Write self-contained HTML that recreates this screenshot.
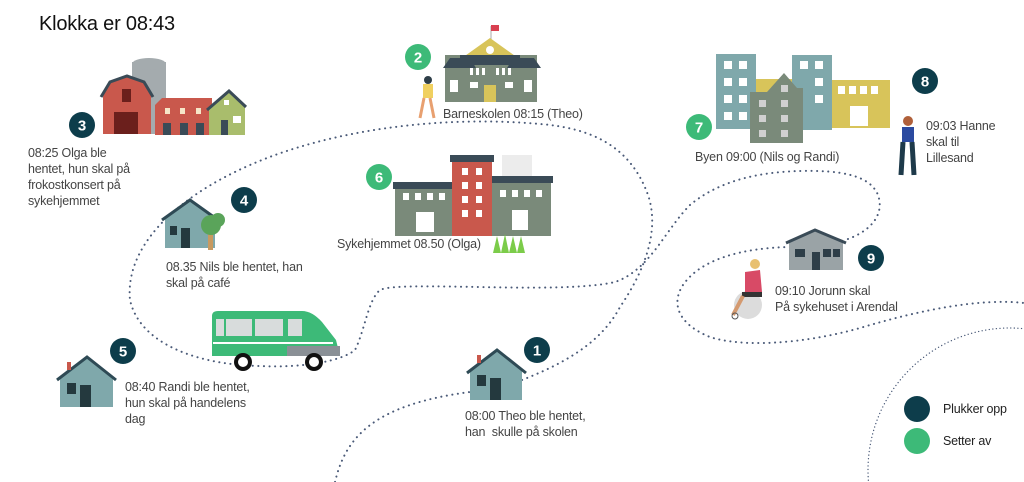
<!DOCTYPE html>
<html><head><meta charset="utf-8"><style>
html,body{margin:0;padding:0;overflow:hidden;width:1024px;height:482px}
body{background:#fff;position:relative;font-family:"Liberation Sans",sans-serif}
svg{position:absolute;left:0;top:0;display:block}
.t{position:absolute;font-size:12.5px;line-height:16px;color:#444;white-space:nowrap;letter-spacing:-0.2px}
</style></head><body>
<svg width="1024" height="482" viewBox="0 0 1024 482">
<g fill="none" stroke="#4a5a78" stroke-width="2" stroke-dasharray="0.1 5.5" stroke-linecap="round">
<path d="M335,482 C345,440 370,405 470,392"/>
<path d="M522,380 C560,365 600,345 620,307 C645,270 660,230 648,195 C630,145 590,128 540,124 C440,115 330,130 250,165 C170,200 125,250 130,300 C140,345 200,365 260,366 C300,368 340,362 355,350 C365,330 368,300 380,290 C400,280 560,295 615,282 C650,270 665,230 690,205 C720,180 760,172 800,171 C840,170 870,175 878,195 C885,215 870,232 845,240"/>
<path d="M790,247 C740,248 700,260 683,285 C670,305 680,325 710,337 C740,347 800,345 860,328 C920,310 980,298 1024,303"/>
<circle cx="1010" cy="470" r="142" stroke-width="1.3" stroke-dasharray="0.1 3.5"/>
</g>
<!-- farm -->
<rect x="132" y="62" width="34" height="72" fill="#a4abae"/><ellipse cx="149" cy="64" rx="17" ry="6" fill="#a4abae"/>
<path d="M103,96 L110,83 L127,77 L144,83 L151,96 L151,134 L103,134Z" fill="#c9584c"/><path d="M101,97 L110,82 L127,76 L144,82 L153,97" fill="none" stroke="#3a4b57" stroke-width="3"/>
<rect x="114" y="112" width="24" height="22" fill="#6b1f1c"/><rect x="122" y="89" width="9" height="13" fill="#6b1f1c"/>
<rect x="155" y="105" width="58" height="30" fill="#c9584c"/><path d="M155,105 L162,98 L212,98 L212,105Z" fill="#c9584c"/>
<rect x="163" y="123" width="8" height="12" fill="#3a4b57"/><rect x="180" y="123" width="8" height="12" fill="#3a4b57"/><rect x="196" y="123" width="8" height="12" fill="#3a4b57"/>
<rect x="165" y="108" width="5" height="6" fill="#f6e6c8"/><rect x="180" y="108" width="5" height="6" fill="#f6e6c8"/><rect x="196" y="108" width="5" height="6" fill="#f6e6c8"/>
<path d="M209,108 L229,92 L245,106 L245,135 L209,135Z" fill="#a9bd6c"/><path d="M207,110 L229,91 L246,107" fill="none" stroke="#3a4b57" stroke-width="3"/>
<rect x="221" y="120" width="7" height="15" fill="#3a4b57"/><rect x="233" y="116" width="8" height="7" fill="#fff"/><rect x="224" y="100" width="5" height="5" fill="#fff"/>
<!-- school -->
<line x1="491" y1="26" x2="491" y2="46" stroke="#aaa"/><rect x="491" y="25" width="8" height="6" fill="#d94050"/>
<rect x="445" y="55" width="92" height="47" fill="#7a8a7a"/><path d="M443,68 L450,58 L470,58 L476,68Z M507,68 L513,58 L534,58 L541,68Z" fill="#3a4b57"/>
<path d="M462,58 L490,38 L518,58Z" fill="#d8c45a"/><circle cx="490" cy="50" r="4" fill="#fff"/>
<rect x="460" y="55" width="60" height="10" fill="#3a4b57"/>
<g fill="#fff"><rect x="470" y="68" width="3" height="7"/><rect x="476" y="68" width="3" height="7"/><rect x="482" y="68" width="3" height="7"/><rect x="496" y="68" width="3" height="7"/><rect x="502" y="68" width="3" height="7"/><rect x="508" y="68" width="3" height="7"/>
<rect x="450" y="80" width="8" height="12"/><rect x="524" y="80" width="8" height="12"/><rect x="470" y="82" width="8" height="6"/><rect x="505" y="82" width="8" height="6"/></g>
<rect x="484" y="85" width="12" height="17" fill="#d8c45a"/>
<!-- child -->
<circle cx="428" cy="80" r="4" fill="#2e3e48"/><rect x="423" y="84" width="10" height="14" fill="#f0d060"/><path d="M424,98 L420,118 M430,98 L434,118" stroke="#e8a070" stroke-width="3"/>
<!-- sykehjem -->
<rect x="502" y="155" width="30" height="22" fill="#ececec"/>
<rect x="395" y="186" width="58" height="50" fill="#7a8a7a"/><rect x="393" y="182" width="62" height="7" fill="#3a4b57"/>
<rect x="491" y="180" width="60" height="56" fill="#7a8a7a"/><rect x="489" y="176" width="64" height="7" fill="#3a4b57"/>
<rect x="452" y="160" width="40" height="76" fill="#c9584c"/><rect x="450" y="155" width="44" height="7" fill="#3a4b57"/>
<g fill="#fff"><rect x="462" y="168" width="6" height="7"/><rect x="476" y="168" width="6" height="7"/><rect x="462" y="182" width="6" height="7"/><rect x="476" y="182" width="6" height="7"/><rect x="462" y="196" width="6" height="7"/><rect x="476" y="196" width="6" height="7"/><rect x="462" y="210" width="6" height="7"/><rect x="476" y="210" width="6" height="7"/>
<rect x="403" y="193" width="6" height="7"/><rect x="415" y="193" width="6" height="7"/><rect x="427" y="193" width="6" height="7"/><rect x="439" y="193" width="6" height="7"/>
<rect x="500" y="190" width="6" height="7"/><rect x="512" y="190" width="6" height="7"/><rect x="524" y="190" width="6" height="7"/><rect x="536" y="190" width="6" height="7"/>
<rect x="416" y="212" width="18" height="20"/><rect x="512" y="210" width="16" height="20"/></g>
<path d="M493,253 L497,236 L501,253 L505,234 L509,253 L513,236 L517,253 L521,236 L525,253Z" fill="#7ccc4a"/>
<!-- house 4 -->
<path d="M165,218 L190,200 L215,218 L215,248 L165,248Z" fill="#7fa8ab"/><path d="M162,220 L190,200 L218,220" fill="none" stroke="#2e4a55" stroke-width="3"/>
<rect x="181" y="228" width="9" height="20" fill="#24393e"/><rect x="170" y="226" width="7" height="9" fill="#24393e"/>
<rect x="208" y="232" width="5" height="18" fill="#c89a60"/><circle cx="211" cy="225" r="10" fill="#5aa45a"/><circle cx="218" cy="220" r="7" fill="#5aa45a"/>
<!-- house 5 -->
<path d="M60,377 L87,357 L113,377 L113,407 L60,407Z" fill="#7fa8ab"/><path d="M57,380 L87,357 L116,380" fill="none" stroke="#2e4a55" stroke-width="3"/>
<rect x="67" y="362" width="4" height="8" fill="#c9584c"/><rect x="80" y="385" width="11" height="22" fill="#24393e"/><rect x="67" y="383" width="9" height="11" fill="#24393e"/>
<!-- house 1 -->
<path d="M470,370 L497,350 L522,370 L522,400 L470,400Z" fill="#7fa8ab"/><path d="M467,373 L497,350 L526,373" fill="none" stroke="#2e4a55" stroke-width="3"/>
<rect x="477" y="355" width="4" height="8" fill="#c9584c"/><rect x="490" y="378" width="11" height="22" fill="#24393e"/><rect x="477" y="375" width="9" height="11" fill="#24393e"/>
<!-- bus -->
<path d="M212,316 Q212,311 218,311 L302,311 Q312,311 322,322 L336,340 L340,356 L212,356Z" fill="#3dba78"/>
<path d="M287,346 L340,346 L340,356 L287,356Z" fill="#8a9096"/>
<g fill="#d8dcdc"><rect x="216" y="319" width="8" height="17"/><rect x="226" y="319" width="26" height="17"/><rect x="255" y="319" width="28" height="17"/><rect x="288" y="319" width="14" height="17"/></g>
<rect x="213" y="342" width="120" height="2" fill="#fff"/>
<circle cx="243" cy="362" r="9" fill="#111"/><circle cx="243" cy="362" r="5" fill="#fff"/><circle cx="314" cy="362" r="9" fill="#111"/><circle cx="314" cy="362" r="5" fill="#fff"/>
<!-- city -->
<rect x="716" y="54" width="40" height="75" fill="#7fa8ab"/><rect x="792" y="55" width="40" height="75" fill="#7fa8ab"/>
<rect x="756" y="79" width="36" height="30" fill="#d8c45a"/><rect x="832" y="80" width="58" height="48" fill="#d8c45a"/>
<path d="M750,92 L767,92 L784,73 L797,88 L803,88 L803,143 L750,143Z" fill="#7a8a7a"/>
<g fill="#fff"><rect x="724" y="61" width="8" height="8"/><rect x="739" y="61" width="8" height="8"/><rect x="724" y="78" width="8" height="8"/><rect x="739" y="78" width="8" height="8"/><rect x="724" y="95" width="8" height="8"/><rect x="739" y="95" width="8" height="8"/><rect x="724" y="112" width="8" height="8"/><rect x="739" y="112" width="8" height="8"/>
<rect x="800" y="61" width="8" height="8"/><rect x="815" y="61" width="8" height="8"/><rect x="815" y="78" width="8" height="8"/><rect x="815" y="95" width="8" height="8"/>
<rect x="838" y="86" width="7" height="8"/><rect x="849" y="86" width="7" height="8"/><rect x="860" y="86" width="7" height="8"/><rect x="871" y="86" width="7" height="8"/><rect x="850" y="106" width="18" height="20"/></g>
<g fill="#d0d0d0"><rect x="759" y="100" width="7" height="7"/><rect x="781" y="100" width="7" height="7"/><rect x="759" y="115" width="7" height="7"/><rect x="781" y="115" width="7" height="7"/><rect x="759" y="130" width="7" height="7"/><rect x="781" y="130" width="7" height="7"/><rect x="781" y="85" width="7" height="7"/></g>
<!-- woman -->
<circle cx="908" cy="121" r="5" fill="#b0603a"/><rect x="902" y="127" width="12" height="15" fill="#2b4aa0"/><path d="M903,142 L901,175 M912,142 L914,175" stroke="#1e3a4a" stroke-width="5"/>
<!-- house 9 -->
<path d="M789,240 L815,230 L843,240 L843,270 L789,270Z" fill="#9aa3a6"/><path d="M786,243 L815,230 L846,243" fill="none" stroke="#3a4b57" stroke-width="3"/>
<rect x="812" y="252" width="8" height="18" fill="#2e3e48"/><rect x="795" y="249" width="10" height="8" fill="#2e3e48"/><rect x="823" y="249" width="8" height="8" fill="#2e3e48"/><rect x="833" y="249" width="7" height="8" fill="#2e3e48"/>
<!-- wheelchair -->
<circle cx="748" cy="305" r="14" fill="#dcdcdc"/><circle cx="755" cy="264" r="5" fill="#e8c070"/><path d="M745,272 L760,270 L762,292 L745,293Z" fill="#d84a66"/><rect x="742" y="292" width="20" height="5" fill="#333"/><path d="M743,296 L733,315" stroke="#d49a70" stroke-width="4"/><circle cx="735" cy="316" r="3" fill="none" stroke="#555"/>
<!-- badges -->
<g font-family="Liberation Sans" font-weight="bold" font-size="15" fill="#fff" text-anchor="middle">
<circle cx="537" cy="350" r="13" fill="#0d3d4b"/><text x="537" y="355.5">1</text>
<circle cx="418" cy="57" r="13" fill="#3dba78"/><text x="418" y="62.5">2</text>
<circle cx="82" cy="125" r="13" fill="#0d3d4b"/><text x="82" y="130.5">3</text>
<circle cx="244" cy="200" r="13" fill="#0d3d4b"/><text x="244" y="205.5">4</text>
<circle cx="123" cy="351" r="13" fill="#0d3d4b"/><text x="123" y="356.5">5</text>
<circle cx="379" cy="177" r="13" fill="#3dba78"/><text x="379" y="182.5">6</text>
<circle cx="699" cy="127" r="13" fill="#3dba78"/><text x="699" y="132.5">7</text>
<circle cx="925" cy="81" r="13" fill="#0d3d4b"/><text x="925" y="86.5">8</text>
<circle cx="871" cy="258" r="13" fill="#0d3d4b"/><text x="871" y="263.5">9</text>
<circle cx="917" cy="409" r="13" fill="#0d3d4b"/><circle cx="917" cy="441" r="13" fill="#3dba78"/>
</g>
</svg>
<div class="t" style="left:39px;top:12px;font-size:20px;line-height:24px;color:#111">Klokka er 08:43</div>
<div class="t" style="left:28px;top:145px">08:25 Olga ble<br>hentet, hun skal på<br>frokostkonsert på<br>sykehjemmet</div>
<div class="t" style="left:443px;top:106px">Barneskolen 08:15 (Theo)</div>
<div class="t" style="left:695px;top:149px">Byen 09:00 (Nils og Randi)</div>
<div class="t" style="left:926px;top:118px">09:03 Hanne<br>skal til<br>Lillesand</div>
<div class="t" style="left:337px;top:236px">Sykehjemmet 08.50 (Olga)</div>
<div class="t" style="left:166px;top:259px">08.35 Nils ble hentet, han<br>skal på café</div>
<div class="t" style="left:125px;top:379px">08:40 Randi ble hentet,<br>hun skal på handelens<br>dag</div>
<div class="t" style="left:465px;top:408px">08:00 Theo ble hentet,<br>han&nbsp; skulle på skolen</div>
<div class="t" style="left:775px;top:283px">09:10 Jorunn skal<br>På sykehuset i Arendal</div>
<div class="t" style="left:943px;top:401px;color:#222">Plukker opp</div>
<div class="t" style="left:943px;top:433px;color:#222">Setter av</div>
</body></html>
